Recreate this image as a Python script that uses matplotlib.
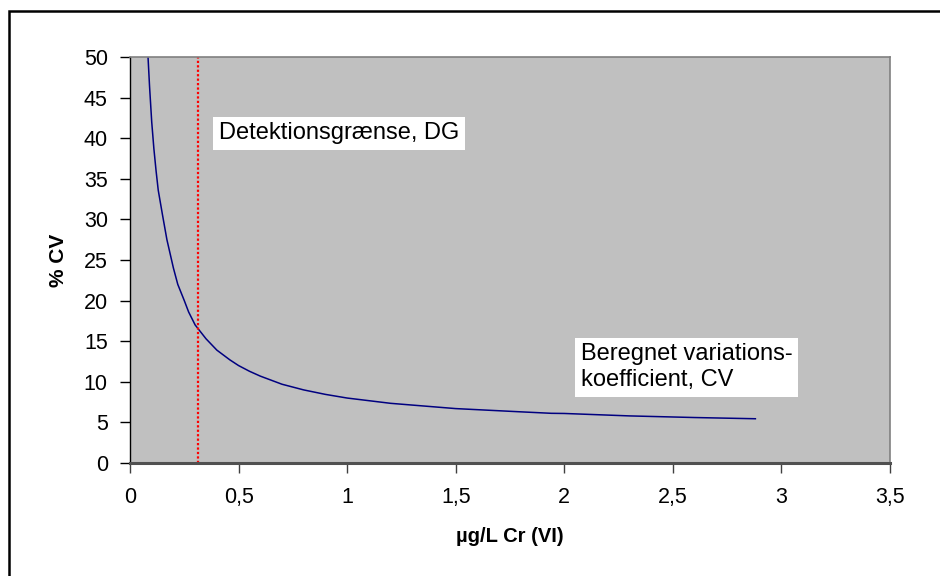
import matplotlib
matplotlib.use("Agg")
import matplotlib.pyplot as plt
from matplotlib.patches import Rectangle

plt.rcParams['font.family'] = ['Liberation Sans', 'DejaVu Sans']

# curve
conc = [0.083, 0.09, 0.1, 0.11, 0.12, 0.13, 0.15, 0.17, 0.2, 0.22, 0.25, 0.27,
        0.3, 0.35, 0.4, 0.46, 0.5, 0.55, 0.6, 0.7, 0.8, 0.9, 1.0, 1.2, 1.5,
        1.8, 1.94, 2.0, 2.3, 2.6, 2.88]
cv = [50.0, 46.4, 42.0, 38.7, 36.0, 33.6, 30.5, 27.5, 24.0, 22.0, 20.0, 18.6,
      17.0, 15.3, 13.9, 12.7, 12.0, 11.3, 10.7, 9.7, 9.0, 8.45, 8.0, 7.35, 6.7,
      6.3, 6.12, 6.1, 5.8, 5.6, 5.45]
dg_x = 0.312

x_ticks = [0, 0.5, 1, 1.5, 2, 2.5, 3, 3.5]
x_tick_labels = ['0', '0,5', '1', '1,5', '2', '2,5', '3', '3,5']
y_ticks = [0, 5, 10, 15, 20, 25, 30, 35, 40, 45, 50]

fig = plt.figure(figsize=(9.4, 5.76), dpi=100)
ax = fig.add_axes([130 / 940, 1 - 463 / 576, 760 / 940, 406 / 576])
ax.set_facecolor('#C0C0C0')

ax.plot(conc, cv, color='#000080', lw=1.1)
ax.plot([dg_x, dg_x], [0, 50], color='#FF0000', lw=1.6, ls=(0, (1, 1)))

ax.set_xlim(0, 3.5)
ax.set_ylim(0, 50)
ax.set_xticks(x_ticks)
ax.set_xticklabels(x_tick_labels)
ax.set_yticks(y_ticks)
ax.tick_params(axis='both', direction='out', length=7, width=1, labelsize=15.5,
               colors='black')
ax.tick_params(axis='x', pad=10, color='#404040')
ax.tick_params(axis='y', pad=9)

for side in ['top', 'right']:
    ax.spines[side].set_color('#808080')
    ax.spines[side].set_linewidth(1.2)
ax.spines['bottom'].set_color('#505050')
ax.spines['bottom'].set_linewidth(2.2)
ax.spines['left'].set_color('black')
ax.spines['left'].set_linewidth(1)

ax.set_xlabel('µg/L Cr (VI)', fontsize=14.5, fontweight='bold', labelpad=14)
ax.set_ylabel('% CV', fontsize=15, fontweight='bold', labelpad=11)

ax.text(0.41, 40.6, 'Detektionsgrænse, DG', fontsize=17, va='center', ha='left',
        bbox=dict(facecolor='white', edgecolor='none', pad=4))
ax.text(2.077, 11.8, 'Beregnet variations-\nkoefficient, CV', fontsize=17,
        va='center', ha='left', linespacing=1.2,
        bbox=dict(facecolor='white', edgecolor='none', pad=4))

fig.patches.append(Rectangle((9 / 940, -0.05), 1.1, 1 - 11 / 576 + 0.05,
                             transform=fig.transFigure, fill=False,
                             edgecolor='black', lw=1.8, clip_on=False))

fig.savefig('out.png', dpi=100)
